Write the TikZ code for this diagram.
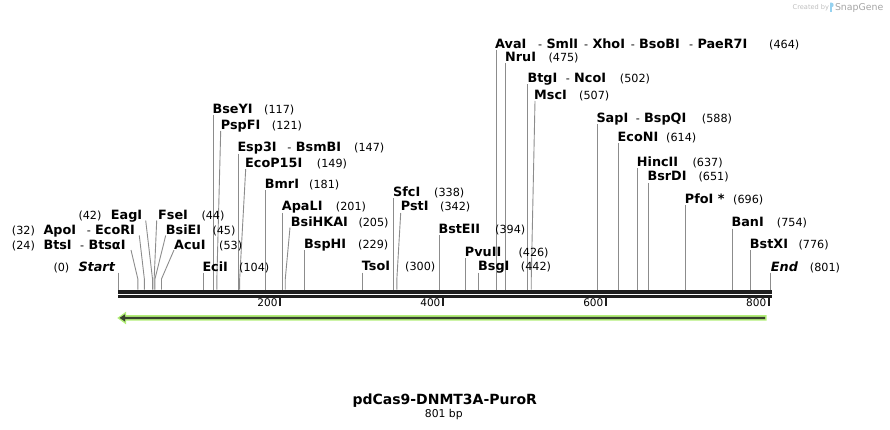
\documentclass[tikz,border=0pt]{standalone}
\usepackage{fontspec}
\setmainfont{DejaVu Sans}
\definecolor{linegray}{RGB}{140,140,140}
\definecolor{bbk}{RGB}{30,30,30}
\definecolor{lgreen}{RGB}{178,238,120}
\definecolor{dgreen}{RGB}{55,65,45}
\definecolor{cgray}{RGB}{190,190,190}
\definecolor{sgray}{RGB}{165,165,165}
\definecolor{iconblue}{RGB}{150,210,240}
\newcommand\vsite[3]{%
  \coordinate (t#1) at ({118.3+0.8145*#2},#3);
  \coordinate (s#1) at ({118.3+0.8145*#2},289.5);
  \draw[siteln] (t#1) -- (s#1);}
\newcommand\dsite[4]{%
  \coordinate (t#1) at (#3,#4);
  \coordinate (k#1) at ({118.3+0.8145*#2},279);
  \coordinate (s#1) at ({118.3+0.8145*#2},289.5);
  \draw[siteln] (t#1) -- (k#1) -- (s#1);}
\tikzset{
  nm/.style={anchor=base west, inner sep=0pt, xshift=-1pt, font=\fontsize{12.8}{14}\selectfont\bfseries},
  nmi/.style={anchor=base west, inner sep=0pt, xshift=-1pt, font=\fontsize{12.8}{14}\selectfont\bfseries\itshape},
  num/.style={anchor=base west, inner sep=0pt, xshift=-1pt, font=\fontsize{11.2}{13}\selectfont},
  hy/.style={anchor=base east, inner sep=0pt, xshift=-4pt, font=\fontsize{11.2}{13}\selectfont},
  siteln/.style={draw=linegray, line width=0.9pt},
  ticklbl/.style={anchor=base east, inner sep=0pt, font=\fontsize{10.5}{12}\selectfont},
}
\begin{document}
\begin{tikzpicture}[x=1pt,y=-1pt]
\useasboundingbox (0,0) rectangle (890,430);

% ---- site lines ----
\vsite{start}{0}{272.5}
\vsite{eci}{104}{272.5}
\vsite{bseyi}{117}{115}
\vsite{esp}{147}{154}
\vsite{bmr}{181}{190.5}
\vsite{apal}{201}{213}
\vsite{bsph}{229}{250}
\vsite{tso}{300}{272.5}
\vsite{sfc}{338}{198.5}
\vsite{bste}{394}{235}
\vsite{pvu}{426}{258}
\vsite{bsg}{442}{272.5}
\vsite{ava}{464}{50}
\vsite{nru}{475}{63.5}
\vsite{btg}{502}{84.5}
\vsite{sap}{588}{124.5}
\vsite{econ}{614}{143.5}
\vsite{hinc}{637}{168.5}
\vsite{bsrd}{651}{183}
\vsite{pfo}{696}{205}
\vsite{ban}{754}{228.5}
\vsite{bstx}{776}{250}
\vsite{end}{801}{272.5}
\dsite{bts}{24}{131}{250}
\dsite{apo}{32}{139.3}{235.5}
\dsite{eag}{42}{145.7}{220.5}
\dsite{fse}{44}{156.7}{220.5}
\dsite{bsie}{45}{165.7}{235.5}
\dsite{acu}{53}{174}{250}
\dsite{pspf}{121}{220.7}{131}
\dsite{ecop}{149}{245.7}{169}
\dsite{bsihk}{205}{290}{227.5}
\dsite{pst}{342}{400.7}{213}
\dsite{msc}{507}{535}{101}

% ---- backbone ----
\draw[line width=4pt, color=bbk] (118.3,291.5) -- (771.5,291.5);
\draw[line width=2.2pt, color=bbk] (118.3,296.5) -- (771.5,296.5);
\foreach \n in {200,400,600,800} {
  \draw[line width=2pt, color=bbk] ({118.3+0.8145*\n-1},297.5) -- ++(0,8);
  \node[ticklbl] (tk\n) at ({118.3+0.8145*\n-3.5},306.5) {\n};
}

% ---- feature arrow ----
\fill[lgreen] (766.7,315) -- (126,315) -- (126,311.7) -- (117.3,318) -- (126,324.3) -- (126,320.7) -- (766.7,320.7) -- cycle;
\fill[dgreen] (765,316.8) -- (125,316.8) -- (125,314.3) -- (119.5,317.9) -- (125,321.5) -- (125,319) -- (765,319) -- cycle;

% ---- right group ----
\node[nm] (avai) at (496,48.3) {AvaI};
\node[nm] (smli) at (547.3,48.3) {SmlI};
\node[hy] (h1) at (smli.base west) {-};
\node[nm] (xhoi) at (593.3,48.3) {XhoI};
\node[hy] (h2) at (xhoi.base west) {-};
\node[nm] (bsobi) at (640,48.3) {BsoBI};
\node[hy] (h3) at (bsobi.base west) {-};
\node[nm] (paer) at (698.3,48.3) {PaeR7I};
\node[hy] (h4) at (paer.base west) {-};
\node[num] (n464) at (770,48.3) {(464)};
\node[nm] (nrui) at (506,61.7) {NruI};
\node[num] (n475) at (549.3,61.7) {(475)};
\node[nm] (btgi) at (528.3,82.5) {BtgI};
\node[nm] (ncoi) at (575,82.5) {NcoI};
\node[hy] (h5) at (ncoi.base west) {-};
\node[num] (n502) at (620.7,82.5) {(502)};
\node[nm] (msci) at (535,99.3) {MscI};
\node[num] (n507) at (580,99.3) {(507)};
\node[nm] (sapi) at (597.3,122.7) {SapI};
\node[nm] (bspqi) at (645,122.7) {BspQI};
\node[hy] (h6) at (bspqi.base west) {-};
\node[num] (n588) at (702.7,122.7) {(588)};
\node[nm] (econi) at (618.5,141.7) {EcoNI};
\node[num] (n614) at (667,141.7) {(614)};
\node[nm] (hincii) at (637.7,166.7) {HincII};
\node[num] (n637) at (693.3,166.7) {(637)};
\node[nm] (bsrdi) at (648.3,181) {BsrDI};
\node[num] (n651) at (699.3,181) {(651)};
\node[nm] (pfoi) at (685.7,203.3) {PfoI *};
\node[num] (n696) at (734,203.3) {(696)};
\node[nm] (bani) at (732.3,226.7) {BanI};
\node[num] (n754) at (777.7,226.7) {(754)};
\node[nm] (bstxi) at (750.7,248.3) {BstXI};
\node[num] (n776) at (799.3,248.3) {(776)};
\node[nmi] (endl) at (771.7,271.3) {End};
\node[num] (n801) at (810.7,271.3) {(801)};

% ---- middle group ----
\node[nm] (bseyi) at (213.3,113.3) {BseYI};
\node[num] (n117) at (265,113.3) {(117)};
\node[nm] (pspfi) at (221.7,129.3) {PspFI};
\node[num] (n121) at (272.7,129.3) {(121)};
\node[nm] (esp3i) at (238.3,151.7) {Esp3I};
\node[nm] (bsmbi) at (296.7,151.7) {BsmBI};
\node[hy] (h7) at (bsmbi.base west) {-};
\node[num] (n147) at (355,151.7) {(147)};
\node[nm] (ecop15i) at (246,167.3) {EcoP15I};
\node[num] (n149) at (317.7,167.3) {(149)};
\node[nm] (bmri) at (265.7,189) {BmrI};
\node[num] (n181) at (310,189) {(181)};
\node[nm] (apali) at (282.7,211) {ApaLI};
\node[num] (n201) at (336.7,211) {(201)};
\node[nm] (bsihkai) at (291.7,226) {BsiHKAI};
\node[num] (n205) at (359.3,226) {(205)};
\node[nm] (bsphi) at (305,248.3) {BspHI};
\node[num] (n229) at (359,248.3) {(229)};
\node[nm] (tsoi) at (362.7,270.9) {TsoI};
\node[num] (n300) at (406,270.9) {(300)};
\node[nm] (sfci) at (394,196.7) {SfcI};
\node[num] (n338) at (435,196.7) {(338)};
\node[nm] (psti) at (401.7,211) {PstI};
\node[num] (n342) at (441,211) {(342)};
\node[nm] (bsteii) at (439.3,233.3) {BstEII};
\node[num] (n394) at (496,233.3) {(394)};
\node[nm] (pvuii) at (465.7,256) {PvuII};
\node[num] (n426) at (519.3,256) {(426)};
\node[nm] (bsgi) at (479,270.9) {BsgI};
\node[num] (n442) at (521.7,270.9) {(442)};
\node[nm] (ecii) at (203.3,271.3) {EciI};
\node[num] (n104) at (240,271.3) {(104)};

% ---- left group ----
\node[num] (n42) at (79.3,219) {(42)};
\node[nm] (eagi) at (111.7,219) {EagI};
\node[nm] (fsei) at (159,219) {FseI};
\node[num] (n44) at (202.3,219) {(44)};
\node[num] (n32) at (12.7,234.3) {(32)};
\node[nm] (apoi) at (44.3,234.3) {ApoI};
\node[nm] (ecori) at (96,234.3) {EcoRI};
\node[hy] (h8) at (ecori.base west) {-};
\node[nm] (bsiei) at (166.7,234.3) {BsiEI};
\node[num] (n45) at (213.3,234.3) {(45)};
\node[num] (n24) at (12.7,249) {(24)};
\node[nm] (btsi) at (44.3,249) {BtsI};
\node[nm] (btsai) at (89.3,249) {BtsαI};
\node[hy] (h9) at (btsai.base west) {-};
\node[nm] (acui) at (175,249) {AcuI};
\node[num] (n53) at (220,249) {(53)};
\node[num] (n0) at (54.3,271.3) {(0)};
\node[nmi] (startl) at (79.3,271.3) {Start};

% ---- title ----
\node[anchor=base, inner sep=0pt, font=\fontsize{14}{16}\selectfont\bfseries] (title) at (444.7,404) {pdCas9-DNMT3A-PuroR};
\node[anchor=base, inner sep=0pt, font=\fontsize{10.8}{12}\selectfont] (len) at (443.8,417.3) {801 bp};

% ---- SnapGene mark ----
\node[anchor=base west, inner sep=0pt, font=\fontsize{6.6}{8}\selectfont, text=cgray] (cb) at (792.5,10) {Created by};
\fill[iconblue] (830,2.7) rectangle (831.6,11.7);
\fill[iconblue] (830,2.7) -- (831.8,2.7) .. controls (834.2,2.7) and (834.2,7.2) .. (831.8,7.2) -- (830,7.2) -- cycle;
\node[anchor=base west, inner sep=0pt, font=\fontsize{9.4}{11}\selectfont, text=sgray] (sg) at (834.8,11) {SnapGene};
\end{tikzpicture}
\end{document}
